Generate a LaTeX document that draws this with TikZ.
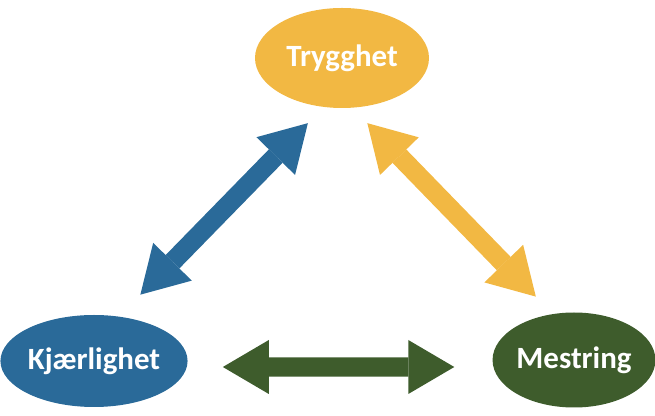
\documentclass[tikz,border=0pt]{standalone}
\usepackage{fontspec}
\usepackage{tikz}
\usetikzlibrary{arrows.meta,positioning,shapes.geometric,calc}
\newfontfamily\lblfont{Carlito}
\definecolor{tryggyellow}{HTML}{F2B843}
\definecolor{kjaerblue}{HTML}{2A6A99}
\definecolor{mestrgreen}{HTML}{3E5C2C}

\begin{document}
\begin{tikzpicture}[
  valuebox/.style={ellipse, inner sep=0pt, text=white,
    font=\lblfont\bfseries\fontsize{22}{25}\selectfont},
  twoway/.style={{Triangle[length=1.15cm, width=1.35cm, line width=0pt]}-{Triangle[length=1.15cm, width=1.35cm, line width=0pt]},
    line width=0.48cm},
]
  \useasboundingbox (0,0) rectangle (16.375,10.4);

  \node[valuebox, fill=tryggyellow, minimum width=4.35cm, minimum height=2.5cm] (tr) at (8.55,8.95) {Trygghet};
  \node[valuebox, fill=kjaerblue, minimum width=4.3cm, minimum height=2.3cm] (kj) at (2.35,1.375) {Kjærlighet};
  \node[valuebox, fill=mestrgreen, minimum width=3.8cm, minimum height=2.375cm] (ms) at (14.35,1.4) {Mestring};

  \draw[twoway, kjaerblue] ($(tr.south west)+(0.69,-0.74)$) -- ($(kj.north east)+(-0.5,0.84)$);
  \draw[twoway, tryggyellow] ($(tr.south east)+(-0.91,-0.74)$) -- ($(ms.north west)+(0.49,0.74)$);
  \draw[twoway, mestrgreen] ($(kj.east)+(0.875,-0.15)$) -- ($(ms.west)+(-0.95,-0.175)$);
\end{tikzpicture}
\end{document}
